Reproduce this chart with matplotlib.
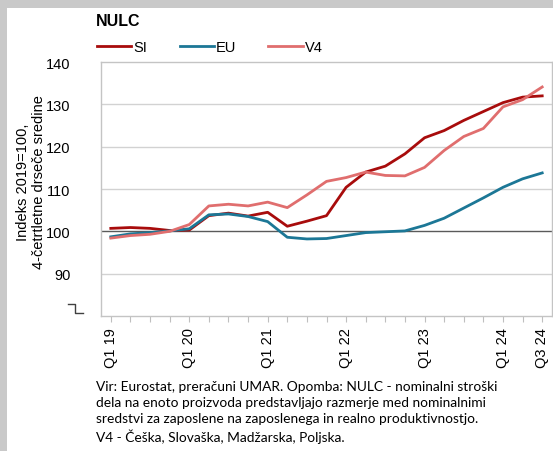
import matplotlib
matplotlib.use("Agg")
import matplotlib.pyplot as plt
from matplotlib.lines import Line2D
from matplotlib.patches import Rectangle

# quarters Q1 19 .. Q3 24
quarters = [f"Q{q} {y}" for y in range(19, 25) for q in range(1, 5)][:23]
shown = {"Q1 19", "Q1 20", "Q1 21", "Q1 22", "Q1 23", "Q1 24", "Q3 24"}

si = [100.7, 100.9, 100.7, 100.2, 100.3, 103.7, 104.3, 103.6, 104.5, 101.2,
      102.4, 103.7, 110.4, 114.0, 115.4, 118.3, 122.1, 123.8, 126.2, 128.3,
      130.4, 131.7, 132.0]
eu = [98.7, 99.4, 99.7, 100.1, 100.6, 103.9, 104.1, 103.5, 102.3, 98.6,
      98.2, 98.3, 99.0, 99.7, 99.9, 100.1, 101.4, 103.1, 105.5, 107.9,
      110.4, 112.4, 113.8]
v4 = [98.4, 99.0, 99.3, 100.0, 101.6, 106.0, 106.4, 106.0, 106.9, 105.6,
      108.6, 111.8, 112.7, 114.0, 113.2, 113.1, 115.1, 119.1, 122.4, 124.3,
      129.4, 131.1, 134.1]

series = [("SI", si, "#A80C0C"), ("EU", eu, "#1C7796"), ("V4", v4, "#E06E6E")]
yticks = [90, 100, 110, 120, 130, 140]

W, H = 553, 452
fig = plt.figure(figsize=(W / 100, H / 100), dpi=100, facecolor="#C9C9C9")
fig.patches.append(Rectangle((7 / W, 0), 1, 1 - 9 / H, transform=fig.transFigure,
                             facecolor="white", edgecolor="none", zorder=-5))

ax = fig.add_axes([101 / W, 1 - 317 / H, 451 / W, 254 / H])
ax.set_facecolor("white")
x = list(range(len(quarters)))
for name, vals, c in series:
    ax.plot(x, vals, color=c, lw=2.0, label=name, zorder=3)

ax.set_xlim(-0.5, len(quarters) - 0.5)
ax.set_ylim(80, 140)
ax.set_yticks(yticks)
ax.set_yticklabels([str(t) for t in yticks], fontsize=10.5, family="Liberation Sans")
ax.tick_params(axis="y", length=0, pad=22)
for t in [90, 110, 120, 130]:
    ax.axhline(t, color="#D2D2D2", lw=1.0, zorder=1)
ax.axhline(100, color="#5A5A5A", lw=1.0, zorder=2)

ax.set_xticks(x)
ax.set_xticklabels([q if q in shown else "" for q in quarters], rotation=90,
                   fontsize=10.5, family="Liberation Sans")
ax.tick_params(axis="x", length=4, color="#BFBFBF", pad=4)
for s in ax.spines.values():
    s.set_color("#C4C4C4")
    s.set_linewidth(1.0)

fig.text(31 / W, 1 - 182 / H, "Indeks 2019=100,\n4-četrtletne drseče sredine",
         fontsize=10.5, family="Liberation Sans", rotation=90, ha="center",
         va="center", linespacing=1.15, multialignment="center")

# axis break symbol
bx = [68 / W, 75 / W, 75 / W, 83 / W]
by = [1 - 305 / H, 1 - 305 / H, 1 - 314 / H, 1 - 314 / H]
fig.add_artist(Line2D(bx, by, color="#404040", lw=1.0, transform=fig.transFigure))

fig.text(96 / W, 1 - 22 / H, "NULC", fontsize=11.5, fontweight="bold",
         family="Liberation Sans", va="center", ha="left")

fig.legend(loc="center left", bbox_to_anchor=(84 / W, 1 - 48 / H), ncol=3,
           frameon=False, handlelength=2.35, handletextpad=0.15,
           columnspacing=2.2, prop={"family": "Liberation Sans", "size": 10.5})

note = ("Vir: Eurostat, preračuni UMAR. Opomba: NULC - nominalni stroški\n"
        "dela na enoto proizvoda predstavljajo razmerje med nominalnimi\n"
        "sredstvi za zaposlene na zaposlenega in realno produktivnostjo.\n"
        "V4 - Češka, Slovaška, Madžarska, Poljska.")
fig.text(96 / W, 1 - 381 / H, note, fontsize=9.9, family="Lato", va="top",
         ha="left", linespacing=1.4)

fig.savefig("out.png", dpi=100, facecolor=fig.get_facecolor())
